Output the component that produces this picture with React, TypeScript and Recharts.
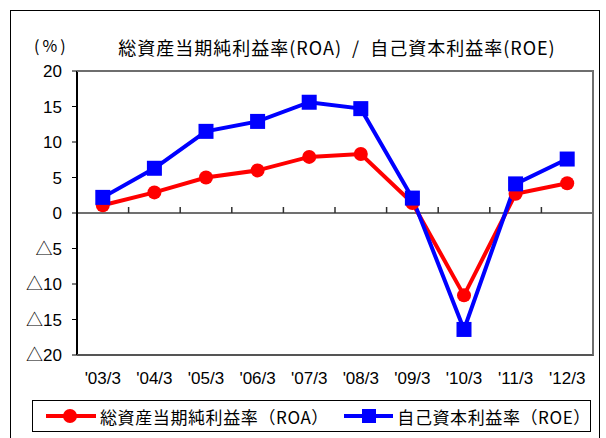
import {
  LineChart,
  Line,
  XAxis,
  YAxis,
  ReferenceArea,
  ReferenceLine,
} from "recharts";

const periods = ["'03/3", "'04/3", "'05/3", "'06/3", "'07/3", "'08/3", "'09/3", "'10/3", "'11/3", "'12/3"];
const roaValues = [1.1, 2.9, 5.0, 6.0, 7.9, 8.3, 1.4, -11.6, 2.7, 4.2];
const roeValues = [2.2, 6.3, 11.5, 12.9, 15.6, 14.7, 2.1, -16.4, 4.1, 7.6];
const yTicks = [20, 15, 10, 5, 0, -5, -10, -15, -20];

const roaLabel = "総資産当期純利益率（ROA）";
const roeLabel = "自己資本利益率（ROE）";
const titleText = "総資産当期純利益率(ROA)  /  自己資本利益率(ROE)";

const RED = "#ff0000";
const BLUE = "#0000ff";
const FRAME = "#6e6e6e";
const JP = "'Noto Sans CJK JP', sans-serif";
const NUM = "'Liberation Sans', 'Noto Sans CJK JP', sans-serif";

const W = 606;
const H = 438;
const margin = { top: 71, right: 13, bottom: 43, left: 17 };
const yAxisWidth = 60;
const xAxisHeight = 40;
const plotLeft = margin.left + yAxisWidth;
const plotWidth = W - margin.left - margin.right - yAxisWidth;
const plotHeight = H - margin.top - margin.bottom - xAxisHeight;
// half a category on each side so points sit in the middle of each slot
const catPad = plotWidth / (2 * periods.length);

const data = periods.map((p, i) => ({ period: p, roa: roaValues[i], roe: roeValues[i] }));

const fmtY = (v: number) => (v < 0 ? "△" + Math.abs(v) : String(v));

// plot frame: the area rect covers first..last point, widen it by the padding
function PlotFrame(props: any) {
  const { x, y, width, height } = props;
  const left = x - catPad;
  const right = x + width + catPad;
  const bottom = y + height;
  return (
    <g>
      <line x1={left} x2={right} y1={y} y2={y} stroke={FRAME} strokeWidth={2} />
      <line x1={right} x2={right} y1={y} y2={bottom} stroke={FRAME} strokeWidth={2} />
      <line x1={left} x2={right} y1={bottom} y2={bottom} stroke="#555" strokeWidth={2} />
    </g>
  );
}

// zero line with small tick marks between categories (Excel style)
function ZeroLine(props: any) {
  const { x1, x2, y1 } = props;
  const n = periods.length;
  const step = (x2 - x1) / n;
  const ticks = [];
  for (let i = 1; i <= n; i++) {
    const x = x1 + step * i;
    ticks.push(<line key={i} x1={x} x2={x} y1={y1} y2={y1 - 6} stroke="#303030" strokeWidth={1.5} />);
  }
  return (
    <g>
      <line x1={x1} x2={x2} y1={y1} y2={y1} stroke="#404040" strokeWidth={1.5} />
      {ticks}
    </g>
  );
}

function SquareDot(props: any) {
  const { cx, cy, index } = props;
  if (cx == null || cy == null) return <g key={index} />;
  return <rect key={index} x={cx - 7.5} y={cy - 7.5} width={15} height={15} fill={BLUE} />;
}

function LegendItem({ color, square, label }: any) {
  return (
    <div style={{ display: "flex", alignItems: "center" }}>
      <svg width={50} height={20}>
        <line x1={0} x2={50} y1={10} y2={10} stroke={color} strokeWidth={4} />
        {square ? (
          <rect x={18} y={3} width={14} height={14} fill={color} />
        ) : (
          <circle cx={24} cy={10} r={7} fill={color} />
        )}
      </svg>
      <span style={{ marginLeft: 4, fontSize: 17, letterSpacing: 0.6, fontFamily: JP, color: "#000" }}>{label}</span>
    </div>
  );
}

export default function App() {
  return (
    <div style={{ position: "absolute", left: 0, top: 0, width: W, height: H, background: "#fff", overflow: "hidden" }}>
      <div
        style={{
          position: "absolute",
          left: 10,
          top: 10,
          width: 588,
          height: 440,
          border: "1.5px solid #000",
        }}
      />
      <div style={{ position: "absolute", left: 34, top: 34, fontSize: 16, letterSpacing: 3, fontFamily: JP, lineHeight: "22px" }}>(%)</div>
      <div
        style={{
          position: "absolute",
          left: 112,
          top: 34,
          width: 450,
          textAlign: "center",
          fontSize: 18,
          fontFamily: JP,
          lineHeight: "26px",
          whiteSpace: "pre",
          letterSpacing: 1,
        }}
      >
        {titleText}
      </div>

      <div style={{ position: "absolute", left: 0, top: 0, zIndex: 1 }}>
        <LineChart width={W} height={H} data={data} margin={margin}>
          <ReferenceArea y1={-20} y2={20} ifOverflow="visible" shape={PlotFrame} />
          <XAxis
            dataKey="period"
            height={xAxisHeight}
            padding={{ left: catPad, right: catPad }}
            tickLine={false}
            tickSize={0}
            tickMargin={17}
            axisLine={false}
            tick={{ fill: "#000", fontSize: 17, fontFamily: NUM }}
            interval={0}
          />
          <YAxis
            width={yAxisWidth}
            domain={[-20, 20]}
            ticks={yTicks}
            tickFormatter={fmtY}
            interval={0}
            tickSize={5}
            tickMargin={10}
            axisLine={{ stroke: "#000", strokeWidth: 2 }}
            tickLine={{ stroke: "#000", strokeWidth: 1 }}
            tick={{ fill: "#000", fontSize: 17, fontFamily: NUM }}
          />
          <ReferenceLine y={0} shape={ZeroLine} />
          <Line
            dataKey="roa"
            stroke={RED}
            strokeWidth={4}
            dot={{ r: 7, fill: RED, stroke: RED, strokeWidth: 0 }}
            activeDot={false}
            isAnimationActive={false}
          />
          <Line
            dataKey="roe"
            stroke={BLUE}
            strokeWidth={4}
            dot={SquareDot}
            activeDot={false}
            isAnimationActive={false}
          />
        </LineChart>
      </div>

      {/* plot area frame drawn above the chart layer as well */}
      <div
        style={{
          position: "absolute",
          zIndex: 2,
          left: plotLeft,
          top: margin.top - 1,
          width: plotWidth + 1,
          height: plotHeight + 2,
          borderTop: `2px solid ${FRAME}`,
          borderRight: `2px solid ${FRAME}`,
          borderBottom: "2px solid #555",
          boxSizing: "border-box",
          pointerEvents: "none",
        }}
      />

      <div
        style={{
          position: "absolute",
          zIndex: 2,
          left: 32,
          top: 400,
          width: 544,
          height: 30,
          border: "1.5px solid #000",
          display: "flex",
          alignItems: "center",
          paddingLeft: 13,
          boxSizing: "content-box",
          background: "#fff",
        }}
      >
        <div style={{ width: 299 }}>
          <LegendItem color={RED} label={roaLabel} />
        </div>
        <LegendItem color={BLUE} square label={roeLabel} />
      </div>
    </div>
  );
}
